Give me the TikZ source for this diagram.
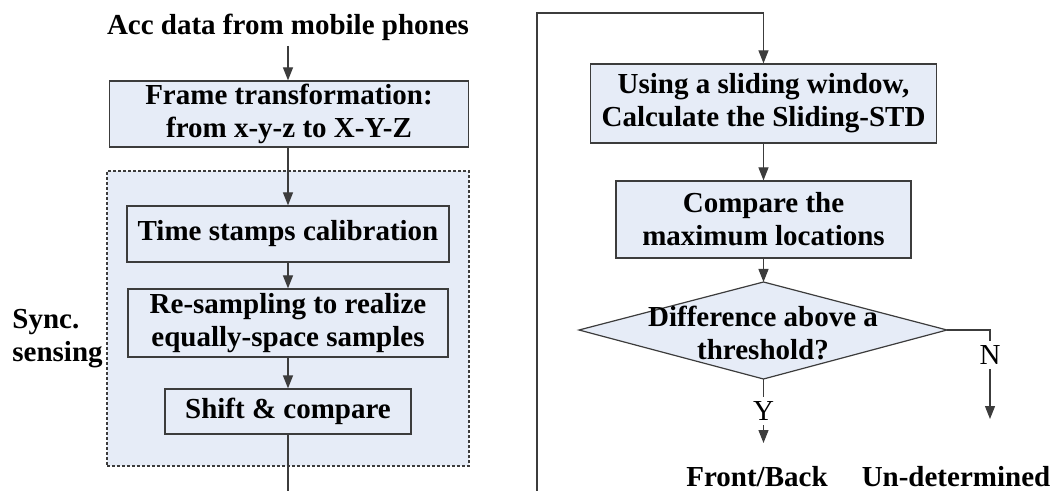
\documentclass[tikz,border=0pt]{standalone}
\usepackage{fontspec}
\setmainfont{Liberation Serif}
\usetikzlibrary{arrows.meta}
\definecolor{boxfill}{RGB}{230,236,247}
\definecolor{linec}{RGB}{60,60,60}
\tikzset{
  every node/.style={font=\fontsize{14.5}{16.5}\selectfont\bfseries, text=black},
  procbox/.style={draw=linec, line width=0.6pt, fill=boxfill, align=center, inner sep=0pt},
  conn/.style={draw=linec, line width=0.6pt},
  arr/.style={conn, -{Triangle[length=6.5pt,width=5pt]}},
  lbl/.style={font=\fontsize{14.5}{16.5}\selectfont, fill=white, inner sep=2.5pt},
  plain/.style={align=center, inner sep=0pt}
}
\begin{document}
\begin{tikzpicture}[x=0.5pt,y=-0.5pt]
\useasboundingbox (0,0) rectangle (1053,491);
% left column
\node[plain, anchor=base] (title) at (288,35) {Acc data from mobile phones};
\node[procbox, minimum width=359*0.5pt, minimum height=66*0.5pt] (frame) at (289,114) {Frame transformation:\\from x-y-z to X-Y-Z};
\node[draw=linec, line width=0.6pt, dash pattern=on 1.5pt off 1pt, fill=boxfill, minimum width=362*0.5pt, minimum height=295*0.5pt, inner sep=0pt] (sync) at (288,318.5) {};
\node[procbox, minimum width=322*0.5pt, minimum height=56*0.5pt] (time) at (288,234) {Time stamps calibration};
\node[procbox, minimum width=320*0.5pt, minimum height=68*0.5pt] (resamp) at (288,323) {Re-sampling to realize\\equally-space samples};
\node[procbox, minimum width=246*0.5pt, minimum height=45*0.5pt] (shift) at (288,411.5) {Shift \& compare};
\node[plain, anchor=west, align=left] (synclbl) at (12,339) {Sync.\\sensing};
\coordinate (lbot) at (288,491);
\coordinate (tarr) at (288,46);
\draw[arr] (tarr) -- (tarr |- frame.north);
\draw[arr] (time.north |- frame.south) -- (time.north);
\draw[arr] (time.south) -- (resamp.north);
\draw[arr] (resamp.south) -- (shift.north);
\draw[conn] (shift.south) -- (lbot);
% right column
\coordinate (rbot) at (537,491);
\coordinate (rtop) at (537,13);
\node[procbox, minimum width=346*0.5pt, minimum height=79*0.5pt] (using) at (763.5,103.5) {Using a sliding window,\\Calculate the Sliding-STD};
\node[procbox, minimum width=295*0.5pt, minimum height=77*0.5pt] (comp) at (763.5,219.5) {Compare the\\maximum locations};
\draw[arr] (rbot) -- (rtop) -| (using.north);
\draw[arr] (using.south) -- (comp.north);
% diamond
\coordinate (dN) at (763.5,282);
\coordinate (dS) at (763.5,379);
\coordinate (dW) at (579,330);
\coordinate (dE) at (947,330);
\path[draw=linec, line width=0.6pt, fill=boxfill] (dN) -- (dE) -- (dS) -- (dW) -- cycle;
\node[plain] (dtext) at (763,333) {Difference above a\\threshold?};
\draw[arr] (comp.south) -- (dN);
\node[plain] (fb) at (757,477) {Front/Back};
\node[plain] (und) at (956,477) {Un-determined};
\coordinate (yend) at (763.5,443);
\coordinate (nend) at (990,419);
\draw[arr] (dS) -- (yend);
\node[lbl] (ylbl) at (763.5,411) {Y};
\draw[arr] (dE) -| (nend);
\node[lbl] (nlbl) at (990,355) {N};
\end{tikzpicture}
\end{document}
